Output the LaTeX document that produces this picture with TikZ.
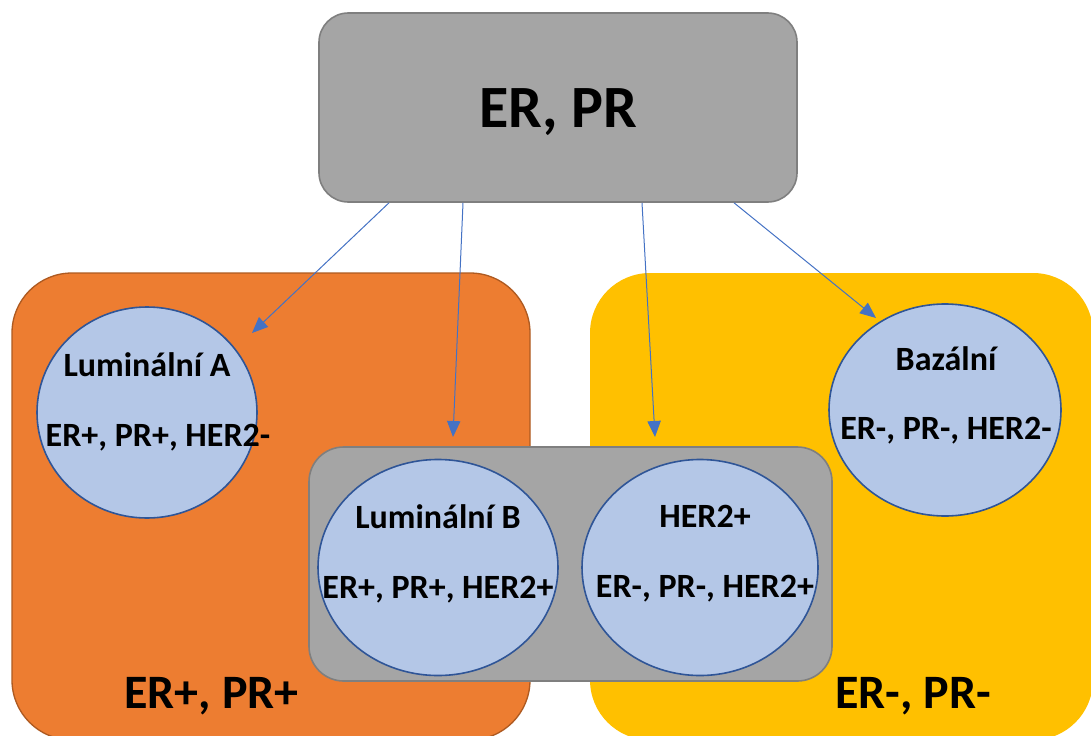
\documentclass[tikz,border=0pt]{standalone}
\usepackage{fontspec}
\setmainfont{Carlito}
\usetikzlibrary{arrows.meta,shapes.geometric}
\definecolor{boxgray}{HTML}{A5A5A5}
\definecolor{boxline}{HTML}{7F7F7F}
\definecolor{erpos}{HTML}{ED7D31}
\definecolor{erposline}{HTML}{AE5A21}
\definecolor{erneg}{HTML}{FFC000}
\definecolor{blobfill}{HTML}{B4C7E7}
\definecolor{blobline}{HTML}{2F5597}
\definecolor{arrline}{HTML}{4472C4}

\begin{document}
\begin{tikzpicture}[x=0.75pt,y=-0.75pt]
\tikzset{every node/.style={inner sep=0pt},
  zone/.style={rectangle, rounded corners=45pt, minimum height=350.25pt},
  graybox/.style={rectangle, draw=boxline, fill=boxgray, line width=1.2pt},
  blob/.style={ellipse, draw=blobline, fill=blobfill, line width=1.2pt},
  title/.style={anchor=base, font=\bfseries\fontsize{25.5pt}{30pt}\selectfont},
  big/.style={anchor=base, font=\bfseries\fontsize{36pt}{42pt}\selectfont},
  arr/.style={draw=arrline, line width=0.75pt, -{Triangle[length=12pt,width=10pt]}}}
\clip (0,0) rectangle (1091,735);
% the two receptor groups
\node [zone, fill=erpos, draw=erposline, line width=1pt, minimum width=388.5pt] (pos) at (271,506.5) {};
\node [zone, fill=erneg, minimum width=377.25pt] (neg) at (841.5,506.5) {};
\node [big] (posl) at (211.5,708) {ER+, PR+};
\node [big] (negl) at (913,708) {ER-, PR-};
% HER2 box
\node [graybox, rounded corners=26pt, minimum width=392.25pt, minimum height=175.5pt] (mid) at (570.5,564) {};
% subtypes
\node [blob, minimum width=165pt, minimum height=158.25pt] (lumA) at (147,412.5) {};
\node [title] (lumAt) at (147,376) {Luminální A};
\node [title] (lumAs) at (158,446) {ER+, PR+, HER2-};
\node [blob, minimum width=180pt, minimum height=162pt] (lumB) at (438,567.5) {};
\node [title] (lumBt) at (438,528) {Luminální B};
\node [title] (lumBs) at (438,598) {ER+, PR+, HER2+};
\node [blob, minimum width=177pt, minimum height=162pt] (her) at (700,567.5) {};
\node [title] (hert) at (705,527) {HER2+};
\node [title] (hers) at (705,597) {ER-, PR-, HER2+};
\node [blob, minimum width=174pt, minimum height=159pt] (baz) at (945,410) {};
\node [title] (bazt) at (946,370) {Bazální};
\node [title] (bazs) at (946,439) {ER-, PR-, HER2-};
% top box
\node [graybox, rounded corners=22pt, minimum width=358.5pt, minimum height=141.75pt] (top) at (558,107.5) {};
\node [anchor=base, font=\bfseries\fontsize{45pt}{54pt}\selectfont] (topt) at (558,127) {ER, PR};
% arrows
\coordinate (tipA) at (252,333);
\coordinate (tipB) at (453,437);
\coordinate (tipH) at (655,437);
\coordinate (tipZ) at (876,318);
\draw [arr] ([xshift=-169*0.75pt]top.south) -- (tipA);
\draw [arr] ([xshift=-95*0.75pt]top.south) -- (tipB);
\draw [arr] ([xshift=84*0.75pt]top.south) -- (tipH);
\draw [arr] ([xshift=176*0.75pt]top.south) -- (tipZ);
\end{tikzpicture}
\end{document}
